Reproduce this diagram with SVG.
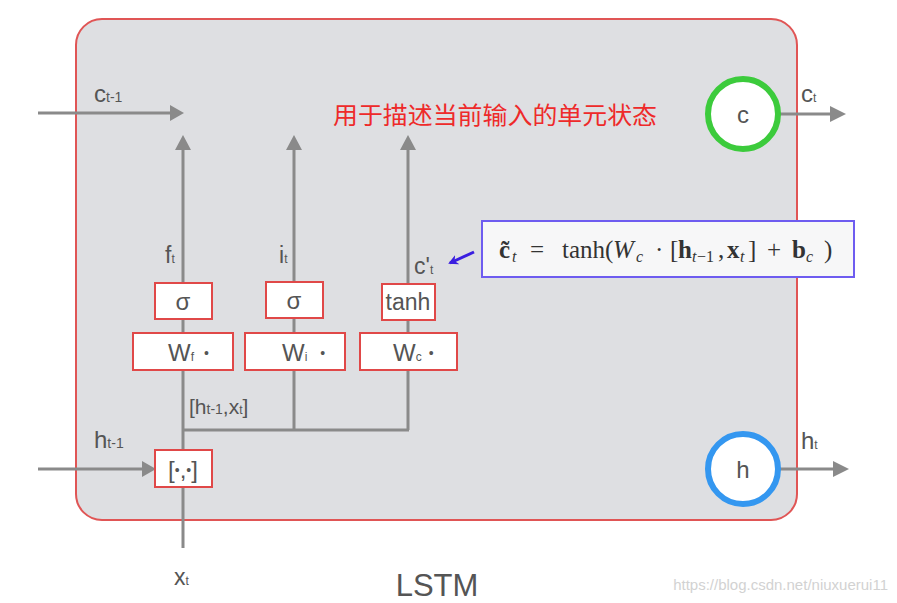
<svg xmlns="http://www.w3.org/2000/svg" width="897" height="603" viewBox="0 0 897 603">
<defs>
<marker id="bh" viewBox="0 0 10 10" refX="8" refY="5" markerWidth="10" markerHeight="10" orient="auto" markerUnits="userSpaceOnUse">
<path d="M0,0 L10,5 L0,10 L3,5 z" fill="#3a1ee0"/>
</marker>
<style>
.ln{stroke:#8a8a8a;stroke-width:3;fill:none}
.ah{fill:#8a8a8a}
.bx{fill:#ffffff;stroke:#e04848;stroke-width:2}
.t{font-family:"Liberation Sans",Arial,sans-serif;fill:#555555}
.m{font-family:"Liberation Serif","Times New Roman",serif;fill:#333333;font-size:25px}
.b{font-weight:bold}
.i{font-style:italic;font-size:16px}
</style>
</defs>
<rect x="0" y="0" width="897" height="603" fill="#ffffff"/>
<g id="cell">
<rect x="76" y="19" width="721" height="501" rx="26" ry="26" fill="#dedfe2" stroke="#e05555" stroke-width="2"/>
</g>
<g id="connectors">
<path class="ln" d="M38,113 H172"/>
<path class="ah" d="M170,105 L184,113 L170,121 z"/>
<path class="ln" d="M38,469 H145"/>
<path class="ah" d="M142,461 L156,469 L142,477 z"/>
<path class="ln" d="M183,548 V148"/>
<path class="ah" d="M175,150 L183,135 L191,150 z"/>
<path class="ln" d="M183,430 H409 M294,430 V148 M408,430 V148"/>
<path class="ah" d="M286,150 L294,135 L302,150 z"/>
<path class="ah" d="M400,150 L408,135 L416,150 z"/>
<path class="ln" d="M780,114 H833"/>
<path class="ah" d="M830,106 L846,114 L830,122 z"/>
<path class="ln" d="M780,469 H836"/>
<path class="ah" d="M833,461 L849,469 L833,477 z"/>
<path d="M474,252 L450,263" stroke="#3a1ee0" stroke-width="3" fill="none" marker-end="url(#bh)"/>
</g>
<g id="sigma_f"><rect class="bx" x="155" y="283" width="57" height="36"/><text class="t" x="183" y="310" font-size="24" text-anchor="middle">σ</text></g>
<g id="sigma_i"><rect class="bx" x="266" y="282" width="57" height="36"/><text class="t" x="294" y="309" font-size="24" text-anchor="middle">σ</text></g>
<g id="tanh"><rect class="bx" x="382" y="284" width="53" height="36"/><text class="t" x="408" y="310" font-size="23" text-anchor="middle">tanh</text></g>
<g id="Wf"><rect class="bx" x="133" y="333" width="100" height="37"/><text class="t" x="168" y="361" font-size="24">W<tspan font-size="12">f</tspan><tspan dx="10" font-size="14" dy="-3">•</tspan></text></g>
<g id="Wi"><rect class="bx" x="245" y="333" width="100" height="37"/><text class="t" x="282" y="361" font-size="24">W<tspan font-size="12">i</tspan><tspan dx="13" font-size="14" dy="-3">•</tspan></text></g>
<g id="Wc"><rect class="bx" x="360" y="333" width="97" height="37"/><text class="t" x="393" y="361" font-size="24">W<tspan font-size="12">c</tspan><tspan dx="7" font-size="14" dy="-3">•</tspan></text></g>
<g id="concat"><rect class="bx" x="155" y="450" width="57" height="37"/><text class="t" x="183" y="478" font-size="24" text-anchor="middle">[<tspan font-size="14" dy="-3">•</tspan><tspan dy="3">,</tspan><tspan font-size="14" dy="-3">•</tspan><tspan dy="3">]</tspan></text></g>
<g id="c_node"><circle cx="743" cy="114" r="35" fill="#ffffff" stroke="#3ccb3c" stroke-width="6"/><text class="t" x="743" y="123" font-size="24" text-anchor="middle">c</text></g>
<g id="h_node"><circle cx="743" cy="469" r="35" fill="#ffffff" stroke="#3497f0" stroke-width="6"/><text class="t" x="743" y="478" font-size="24" text-anchor="middle">h</text></g>
<g id="formula">
<rect x="482" y="221" width="372" height="56" fill="#f7f7f8" stroke="#6e5cf0" stroke-width="2"/>
<text class="m" y="258"><tspan class="b" x="499">c̃</tspan><tspan class="i" x="512" y="262">t</tspan><tspan x="530" y="258">=</tspan><tspan x="562">tanh(</tspan><tspan x="613" font-style="italic">W</tspan><tspan class="i" x="636" y="262">c</tspan><tspan x="655" y="258">·</tspan><tspan x="670">[</tspan><tspan class="b" x="678">h</tspan><tspan class="i" x="692" y="262">t</tspan><tspan x="697" font-size="16">−1</tspan><tspan x="718" y="258">,</tspan><tspan class="b" x="727">x</tspan><tspan class="i" x="740" y="262">t</tspan><tspan x="748" y="258">]</tspan><tspan x="767">+</tspan><tspan class="b" x="792">b</tspan><tspan class="i" x="806" y="262">c</tspan><tspan x="824" y="258">)</tspan></text>
</g>
<g id="labels">
<text class="t" x="94" y="102" font-size="24">c<tspan font-size="14">t-1</tspan></text>
<text class="t" x="94" y="448" font-size="24">h<tspan font-size="14">t-1</tspan></text>
<text class="t" x="174" y="585" font-size="23">x<tspan font-size="12">t</tspan></text>
<text class="t" x="165" y="263" font-size="23">f<tspan font-size="12">t</tspan></text>
<text class="t" x="279" y="263" font-size="23">i<tspan font-size="12">t</tspan></text>
<text class="t" x="414" y="274" font-size="23">c'<tspan font-size="12">t</tspan></text>
<text class="t" x="189" y="414" font-size="21">[h<tspan font-size="14">t-1</tspan>,x<tspan font-size="12">t</tspan>]</text>
<text class="t" x="801" y="102" font-size="24">c<tspan font-size="12">t</tspan></text>
<text class="t" x="801" y="449" font-size="24">h<tspan font-size="12">t</tspan></text>
<text x="333" y="124" font-family="'Noto Sans CJK SC','Noto Sans',sans-serif" font-size="24" fill="#ee2a2a" textLength="324" lengthAdjust="spacingAndGlyphs">用于描述当前输入的单元状态</text>
<text class="t" x="437" y="596" font-size="31" text-anchor="middle" fill="#444444">LSTM</text>
<text x="888" y="590" font-family="'Liberation Sans',Arial,sans-serif" font-size="15" fill="#d2d2d2" text-anchor="end">https://blog.csdn.net/niuxuerui11</text>
</g>
</svg>
